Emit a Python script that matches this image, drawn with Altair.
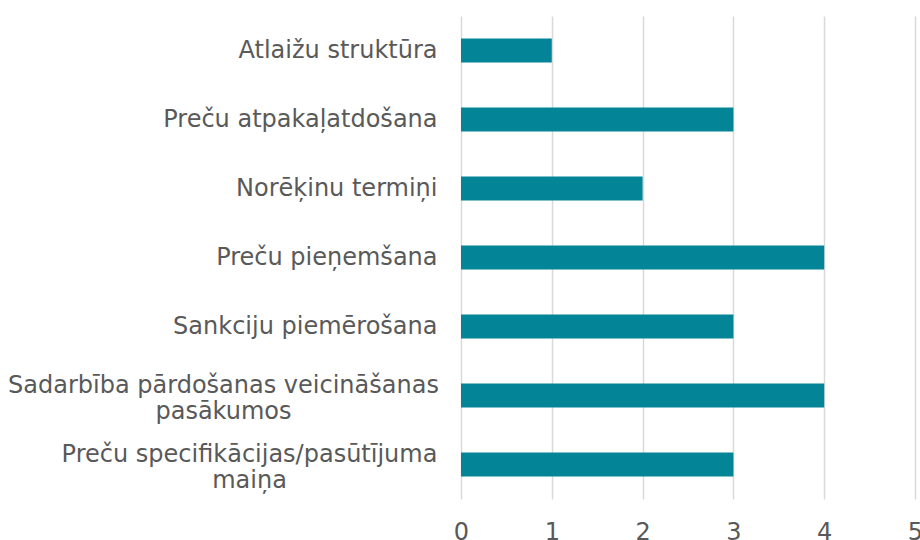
import altair as alt
import pandas as pd

categories = [
    "Atlaižu struktūra",
    "Preču atpakaļatdošana",
    "Norēķinu termiņi",
    "Preču pieņemšana",
    "Sankciju piemērošana",
    "Sadarbība pārdošanas veicināšanas|pasākumos",
    "Preču specifikācijas/pasūtījuma|maiņa",
]
values = [1, 3, 2, 4, 3, 4, 3]
x_ticks = [0, 1, 2, 3, 4, 5]

df = pd.DataFrame({"cat": categories, "val": values})

wrap1 = categories[5]
wrap2 = categories[6]
wrapped_test = f"datum.value == '{wrap1}' || datum.value == '{wrap2}'"

chart = alt.Chart(df).mark_bar(color="#038497").encode(
    x=alt.X(
        "val:Q",
        scale=alt.Scale(domain=[0, 5], nice=False),
        axis=alt.Axis(
            values=x_ticks,
            title=None,
            domain=False,
            ticks=False,
            grid=True,
            gridColor="#d9d9d9",
            gridWidth=1.5,
            labelFont="DejaVu Sans",
            labelFontSize=24,
            labelColor="#595959",
            labelPadding=21,
            labelFlush=False,
        ),
    ),
    y=alt.Y(
        "cat:N",
        sort=categories,
        scale=alt.Scale(paddingInner=0.65, paddingOuter=0.325),
        axis=alt.Axis(
            title=None,
            domain=False,
            ticks=False,
            grid=False,
            labelExpr="split(datum.label, '|')",
            labelFont="DejaVu Sans",
            labelFontSize=24,
            labelColor="#595959",
            labelLimit=600,
            labelLineHeight=26,
            labelAlign={
                "condition": {"test": wrapped_test, "value": "center"},
                "value": "right",
            },
            labelOffset={
                "condition": {"test": wrapped_test, "value": -10},
                "value": 0,
            },
            labelPadding={
                "condition": [
                    {"test": f"datum.value == '{wrap1}'", "value": 238},
                    {"test": f"datum.value == '{wrap2}'", "value": 212},
                ],
                "value": 24,
            },
        ),
    ),
).properties(
    width=454,
    height=483,
    autosize=alt.AutoSizeParams(type="none"),
    padding={"left": 461, "top": 16, "right": 5, "bottom": 41},
).configure_view(stroke=None)

chart.save("out.html", embed_options={"renderer": "svg", "actions": False})
